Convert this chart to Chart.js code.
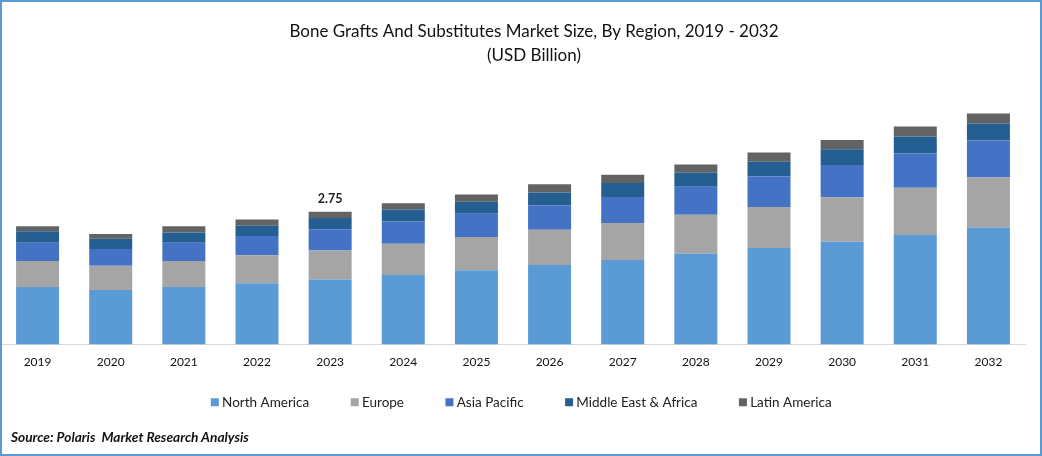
<!DOCTYPE html>
<html>
<head>
<meta charset="utf-8">
<script src="https://cdn.jsdelivr.net/npm/chart.js@4/dist/chart.umd.min.js"></script>
<style>
  html, body { margin: 0; padding: 0; background: #fff; }
  #frame { position: relative; width: 1042px; height: 456px; box-sizing: border-box; border: 2px solid #5b9bd5; overflow: hidden; }
  #wrap { position: absolute; left: -2px; top: -2px; width: 1042px; height: 456px; }
  #source { position: absolute; left: 9px; top: 426px; font: italic bold 13.7px Lato, sans-serif; color: #111; white-space: pre; }
</style>
</head>
<body>
<div id="frame">
  <div id="wrap"><canvas id="chart"></canvas></div>
  <div id="source">Source: Polaris  Market Research Analysis</div>
</div>
<script>
const years = ['2019','2020','2021','2022','2023','2024','2025','2026','2027','2028','2029','2030','2031','2032'];
const northAmerica = [1.19, 1.13, 1.19, 1.27, 1.35, 1.44, 1.54, 1.65, 1.75, 1.88, 2.00, 2.13, 2.27, 2.42];
const europe = [0.54, 0.50, 0.54, 0.58, 0.60, 0.65, 0.69, 0.73, 0.77, 0.81, 0.85, 0.92, 0.98, 1.04];
const asiaPacific = [0.38, 0.35, 0.38, 0.40, 0.44, 0.46, 0.48, 0.50, 0.54, 0.58, 0.63, 0.67, 0.71, 0.77];
const middleEastAfrica = [0.24, 0.21, 0.21, 0.21, 0.23, 0.25, 0.25, 0.27, 0.29, 0.29, 0.31, 0.33, 0.35, 0.35];
const latinAmerica = [0.10, 0.10, 0.13, 0.13, 0.13, 0.13, 0.15, 0.17, 0.17, 0.17, 0.19, 0.19, 0.21, 0.21];

const totalLabel = '2.75';
const totalLabelIndex = years.indexOf('2023');

// the only value printed on the bars, sits above 2023
const totalLabelPlugin = {
  id: 'totalLabel',
  afterDatasetsDraw(chart) {
    const bar = chart.getDatasetMeta(4).data[totalLabelIndex];
    const ctx = chart.ctx;
    ctx.save();
    ctx.font = 'bold 12.5px Lato, sans-serif';
    ctx.fillStyle = '#222';
    ctx.textAlign = 'center';
    ctx.textBaseline = 'bottom';
    ctx.fillText(totalLabel, bar.x, bar.y - 7);
    ctx.restore();
  }
};

// title and legend are not centred on the plot in the original
const shiftBoxesPlugin = {
  id: 'shiftBoxes',
  afterLayout(chart) {
    chart.titleBlock.left += 21;
    chart.titleBlock.right += 21;
    chart.legend.left += 10;
    chart.legend.right += 10;
    chart.legend.top += 1;
    // axis box was squeezed in afterFit, open it again so the labels are not clipped
    chart.scales.x.bottom += 30;
  }
};

const makeSet = (label, data, color) => ({
  label, data,
  backgroundColor: color,
  borderWidth: 0,
  categoryPercentage: 1,
  barPercentage: 0.588
});

new Chart(document.getElementById('chart'), {
  type: 'bar',
  data: {
    labels: years,
    datasets: [
      makeSet('North America', northAmerica, '#5b9bd5'),
      makeSet('Europe', europe, '#a5a5a5'),
      makeSet('Asia Pacific', asiaPacific, '#4472c4'),
      makeSet('Middle East & Africa', middleEastAfrica, '#255e91'),
      makeSet('Latin America', latinAmerica, '#636363')
    ]
  },
  plugins: [totalLabelPlugin, shiftBoxesPlugin],
  options: {
    responsive: true,
    maintainAspectRatio: false,
    animation: false,
    layout: { padding: { left: 1, right: 17, top: 20, bottom: 38 } },
    plugins: {
      tooltip: { enabled: false },
      title: {
        display: true,
        text: ['Bone Grafts And Substitutes Market Size, By Region, 2019 - 2032', '(USD Billion)'],
        color: '#111',
        font: { family: 'Lato, sans-serif', size: 17, weight: 'normal', lineHeight: 1.4 },
        padding: { top: 0, bottom: 0 }
      },
      legend: {
        position: 'bottom',
        labels: {
          usePointStyle: true,
          pointStyle: 'rect',
          boxWidth: 1,
          boxHeight: 8,
          padding: 45,
          color: '#222',
          font: { family: 'Lato, sans-serif', size: 13.5 }
        }
      }
    },
    scales: {
      x: {
        stacked: true,
        grid: { display: false, drawTicks: false },
        border: { color: '#d9d9d9', width: 1 },
        ticks: { color: '#111', font: { family: 'Lato, sans-serif', size: 12 }, padding: 10, maxRotation: 0 },
        afterFit(axis) { axis.height = 5; }
      },
      y: {
        stacked: true,
        display: false,
        min: 0,
        max: 5.74
      }
    }
  }
});
</script>
</body>
</html>
